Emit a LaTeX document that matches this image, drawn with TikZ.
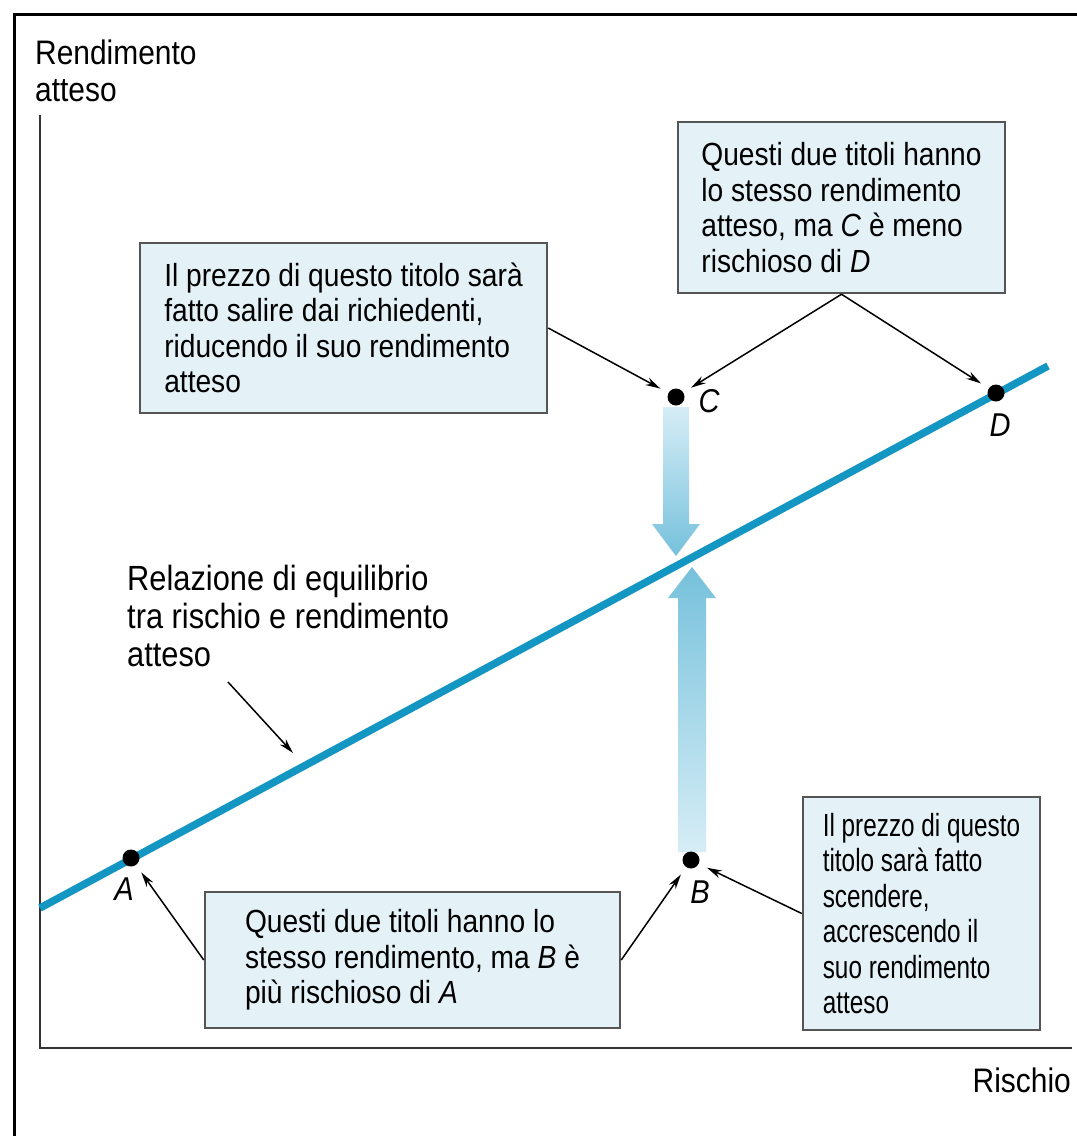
\documentclass[tikz,border=0pt]{standalone}
\usepackage{fontspec}
\setmainfont{Liberation Sans}[FakeStretch=0.88]
\newfontfamily\narrowfont{Liberation Sans}[FakeStretch=0.76]
\usetikzlibrary{arrows.meta}

\definecolor{eqline}{RGB}{20,150,195}
\definecolor{boxfill}{RGB}{228,242,248}
\definecolor{boxedge}{RGB}{85,85,85}
\definecolor{arrowdark}{RGB}{118,193,220}
\definecolor{arrowlight}{RGB}{214,237,246}

\tikzset{
  infobox/.style={draw=boxedge, line width=2.5pt, fill=boxfill, align=left,
    inner sep=0pt, font=\fontsize{32}{35.5}\selectfont},
  dot/.style={circle, fill=black, inner sep=0pt, minimum size=17pt},
  ptlabel/.style={inner sep=0pt, font=\fontsize{33}{36}\selectfont\itshape},
  pointer/.style={-{Stealth[length=15pt,width=8pt]}, line width=1.5pt, shorten >=9pt},
}

\begin{document}
\begin{tikzpicture}[x=1pt,y=-1pt]

\useasboundingbox (0,0) rectangle (1077,1136);
\fill[white] (0,0) rectangle (1077,1136);

% frame and axes
\draw[line width=3pt] (14,1136) -- (14,14) -- (1077,14);
\draw[line width=2pt, black!80] (40,115) -- (40,1048) -- (1072,1048);

\node[anchor=north west, align=left, inner sep=0pt, font=\fontsize{34}{37}\selectfont]
  (ylab) at (35,40) {Rendimento\\atteso};
\node[anchor=base east, inner sep=0pt, font=\fontsize{34}{37}\selectfont]
  (xlab) at (1071,1092) {Rischio};

% shaded moves towards the line
\shade[top color=arrowlight, bottom color=arrowdark]
  (663,407) -- (689,407) -- (689,524) -- (700,524) -- (676,556) -- (652,524) -- (663,524) -- cycle;
\shade[top color=arrowdark, bottom color=arrowlight]
  (678,852) -- (706,852) -- (706,598) -- (716,598) -- (692,567) -- (668,598) -- (678,598) -- cycle;

% equilibrium line
\coordinate (lineS) at (40,908);
\coordinate (lineE) at (1048,366);
\draw[eqline, line width=7.5pt] (lineS) -- (lineE);

\node[dot] (A) at (131,858) {};
\node[dot] (B) at (691,860) {};
\node[dot] (C) at (676,397) {};
\node[dot] (D) at (996,393) {};

\node[ptlabel] (labA) at (124,889) {A};
\node[ptlabel] (labB) at (700,892) {B};
\node[ptlabel] (labC) at (709,401) {C};
\node[ptlabel] (labD) at (1000,425) {D};

\node[infobox, minimum width=407pt, minimum height=170pt] (boxC) at (343.5,328)
  {Il prezzo di questo titolo sarà\\fatto salire dai richiedenti,\\riducendo il suo rendimento\\atteso};
\node[infobox, minimum width=327pt, minimum height=171pt] (boxCD) at (841.5,207.5)
  {Questi due titoli hanno\\lo stesso rendimento\\atteso, ma \textit{C} è meno\\rischioso di \textit{D}};
\node[infobox, minimum width=415pt, minimum height=136pt] (boxAB) at (412.5,960)
  {Questi due titoli hanno lo\\stesso rendimento, ma \textit{B} è\\più rischioso di \textit{A}};
\node[infobox, minimum width=237pt, minimum height=233pt,
  font=\fontsize{32}{35.5}\narrowfont] (boxB) at (921.5,913.5)
  {Il prezzo di questo\\titolo sarà fatto\\scendere,\\accrescendo il\\suo rendimento\\atteso};

\draw[pointer] (boxC.east) -- (C);
\draw[pointer] (boxCD.south) -- (C);
\draw[pointer] (boxCD.south) -- (D);
\draw[pointer] (boxAB.west) -- (A);
\draw[pointer] (boxAB.east) -- (B);
\draw[pointer] (boxB.west) -- (B);

\node[anchor=north west, align=left, inner sep=0pt, font=\fontsize{35}{38}\selectfont]
  (eqlab) at (127,565) {Relazione di equilibrio\\tra rischio e rendimento\\atteso};
\coordinate (eqfoot) at (228,682);
\coordinate (eqtip) at (293,753);
\draw[pointer, shorten >=0pt] (eqfoot) -- (eqtip);

\end{tikzpicture}
\end{document}
